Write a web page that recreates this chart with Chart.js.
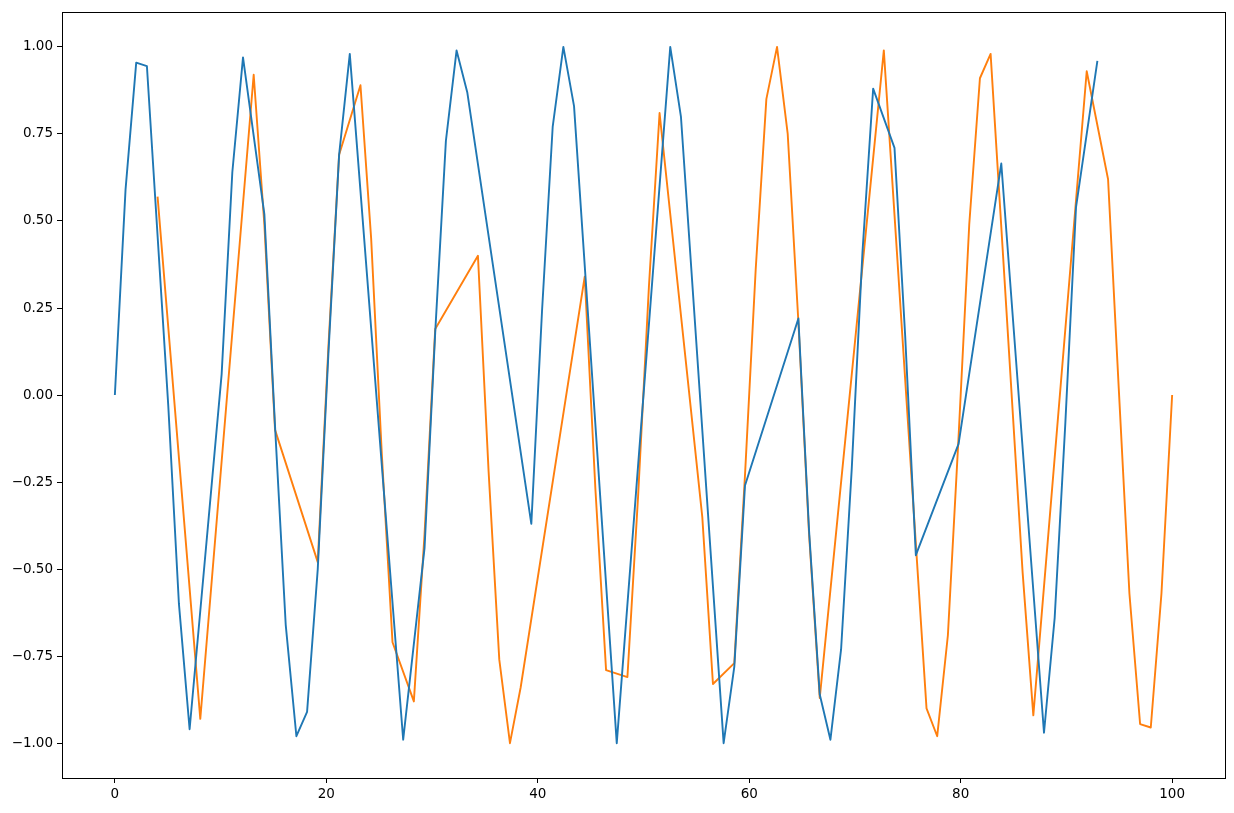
<!DOCTYPE html>
<html>
<head>
<meta charset="utf-8">
<script src="https://cdn.jsdelivr.net/npm/chart.js@4/dist/chart.umd.min.js"></script>
<style>
  html, body { margin: 0; padding: 0; background: #fff; }
  #wrap { width: 1234px; height: 813px; position: relative; }
</style>
</head>
<body>
<div id="wrap"><canvas id="c" width="1234" height="813"></canvas></div>
<script>
// ---- data ----
const blueX = [0,1.01,2.02,3.03,5.05,6.06,7.07,10.10,11.11,12.12,14.14,15.15,16.16,17.17,18.18,19.19,20.20,21.21,22.22,27.27,29.29,30.30,31.31,32.32,33.33,39.39,40.40,41.41,42.42,43.43,47.47,52.53,53.54,57.58,58.59,59.60,64.65,65.66,66.67,67.68,68.69,69.70,70.71,71.72,73.74,74.75,75.76,79.80,83.84,87.88,88.89,89.90,90.91,92.93];
const blueY = [0,0.59,0.955,0.945,-0.03,-0.60,-0.96,0.06,0.64,0.97,0.52,-0.09,-0.66,-0.98,-0.91,-0.50,0.12,0.69,0.98,-0.99,-0.44,0.18,0.73,0.99,0.87,-0.37,0.24,0.77,1.00,0.83,-1.00,1.00,0.80,-1.00,-0.78,-0.26,0.22,-0.39,-0.86,-0.99,-0.73,-0.21,0.41,0.88,0.71,0.17,-0.46,-0.14,0.665,-0.97,-0.64,-0.08,0.54,0.96];
const orangeX = [4.04,8.08,13.13,14.14,15.15,19.19,20.20,21.21,23.23,24.24,25.25,26.26,28.28,29.29,30.30,34.34,35.35,36.36,37.37,38.38,44.44,45.45,46.46,48.48,49.49,50.51,51.52,55.56,56.57,58.59,59.60,60.61,61.62,62.63,63.64,64.65,65.66,66.67,72.73,76.77,77.78,78.79,79.80,80.81,81.82,82.83,85.86,86.87,91.92,93.94,94.95,95.96,96.97,97.98,98.99,100];
const orangeY = [0.57,-0.93,0.92,0.49,-0.10,-0.48,0.14,0.69,0.89,0.45,-0.17,-0.71,-0.88,-0.40,0.19,0.40,-0.22,-0.76,-1.00,-0.84,0.34,-0.27,-0.79,-0.81,-0.29,0.31,0.81,-0.35,-0.83,-0.77,-0.23,0.36,0.85,1.00,0.75,0.21,-0.40,-0.87,0.99,-0.90,-0.98,-0.69,-0.12,0.49,0.91,0.98,-0.51,-0.92,0.93,0.62,0.02,-0.57,-0.945,-0.955,-0.57,0.00];
const xTicks = [0,20,40,60,80,100];
const yTicks = [-1.00,-0.75,-0.50,-0.25,0.00,0.25,0.50,0.75,1.00];

function pts(xs, ys) { return xs.map((x, i) => ({x: x, y: ys[i]})); }

const frame = {
  id: 'frame',
  afterDatasetsDraw(chart) {
    const a = chart.chartArea, ctx = chart.ctx;
    ctx.save();
    ctx.strokeStyle = '#000';
    ctx.lineWidth = 1;
    ctx.strokeRect(Math.round(a.left) + 0.5, Math.round(a.top) + 0.5,
                   Math.round(a.right - a.left), Math.round(a.bottom - a.top));
    ctx.restore();
  }
};

const font = {family: 'DejaVu Sans', size: 13.5};

new Chart(document.getElementById('c'), {
  type: 'scatter',
  data: {
    datasets: [
      {data: pts(blueX, blueY), showLine: true, borderColor: '#1f77b4', backgroundColor: '#1f77b4',
       borderWidth: 1.9, pointRadius: 0, tension: 0, borderJoinStyle: 'round', fill: false},
      {data: pts(orangeX, orangeY), showLine: true, borderColor: '#ff7f0e', backgroundColor: '#ff7f0e',
       borderWidth: 1.9, pointRadius: 0, tension: 0, borderJoinStyle: 'round', fill: false}
    ]
  },
  options: {
    responsive: false,
    animation: false,
    devicePixelRatio: 1,
    layout: {padding: {left: 0, right: 9, top: 10, bottom: 0}},
    plugins: {legend: {display: false}, tooltip: {enabled: false}},
    scales: {
      x: {
        type: 'linear', min: -5, max: 105,
        afterBuildTicks: s => { s.ticks = xTicks.map(v => ({value: v})); },
        afterFit: s => { s.height = 35; },
        grid: {drawOnChartArea: false, drawTicks: true, tickLength: 5, tickColor: '#000', tickWidth: 1},
        border: {display: true, color: '#000', width: 1},
        ticks: {color: '#000', font: font, padding: 3, maxRotation: 0,
                callback: v => String(v)}
      },
      y: {
        type: 'linear', min: -1.1, max: 1.1,
        afterBuildTicks: s => { s.ticks = yTicks.map(v => ({value: v})); },
        afterFit: s => { s.width = 62; },
        grid: {drawOnChartArea: false, drawTicks: true, tickLength: 5, tickColor: '#000', tickWidth: 1},
        border: {display: true, color: '#000', width: 1},
        ticks: {color: '#000', font: font, padding: 4,
                callback: v => (v < 0 ? '\u2212' : '') + Math.abs(v).toFixed(2)}
      }
    }
  },
  plugins: [frame]
});
</script>
</body>
</html>
